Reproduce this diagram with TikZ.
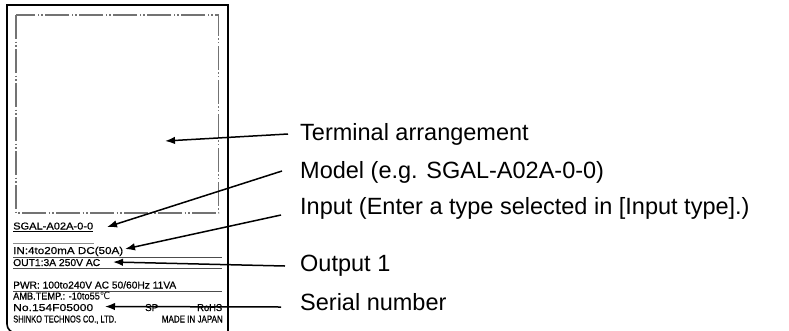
\documentclass[tikz,border=0pt]{standalone}
\usepackage{fontspec}
\setmainfont{Liberation Sans}
\newfontfamily\djv{DejaVu Sans}
\newfontfamily\labelfont[FakeBold=0.6]{Liberation Sans}
\usepackage{graphicx}
\usetikzlibrary{arrows.meta}
\newcommand\fitto[2]{\resizebox{#1pt}{\height}{#2}}
\begin{document}
\begin{tikzpicture}[x=1pt,y=-1pt,
  lt/.style={anchor=base west, inner sep=0pt, font=\labelfont\fontsize{10}{11}\selectfont},
  rl/.style={anchor=base west, inner sep=0pt, font=\fontsize{23.5}{26}\selectfont},
  sepline/.style={line width=0.9pt, black!70},
  dd/.style={line width=1.3pt, black!55, dash pattern=on 24pt off 2.5pt on 1.5pt off 2pt on 1.5pt off 2.5pt},
  conn/.style={line width=1.5pt, -{Latex[length=10pt,width=7.5pt]}},
  outer/.style={line width=1.6pt, black}]
\useasboundingbox (0,0) rectangle (789,330);
\fill[white] (0,0) rectangle (789,330);
\begin{scope}
\clip (0,0) rectangle (789,330);
% outer label border
\draw[outer] (228,345) -- (228,5) -- (7,5) [rounded corners=9pt] -- (7,333) -- (60,333);
% terminal area
\draw[dd] (16,15) rectangle (218.5,213);
% texts on the label
\node[lt] (model) at (13,229.5) {\fitto{80}{SGAL-A02A-0-0}};
\draw[line width=0.8pt] (13,231.8) -- (93,231.8);
\draw[line width=0.9pt, black!45] (13,243) -- (94,243);
\node[lt] (inp) at (13,254) {\fitto{110}{IN:4to20mA DC(50A)}};
\draw[sepline] (13,257) -- (222,257);
\node[lt] (out) at (13,266) {\fitto{87}{OUT1:3A 250V AC}};
\draw[sepline] (13,268.5) -- (222,268.5);
\node[lt] (pwr) at (13,288.5) {\fitto{163}{PWR: 100to240V AC 50/60Hz 11VA}};
\draw[sepline] (13,291) -- (222,291);
\node[lt] (amb) at (13,299.5) {\fitto{97}{AMB.TEMP.: -10to55{\djv ℃}}};
\node[lt] (serial) at (13,311) {\fitto{80}{No.154F05000}};
\node[lt] (sp) at (145,311) {\fitto{13}{SP}};
\node[lt] (rohs) at (197,311) {\fitto{25}{RoHS}};
\node[lt] (maker) at (13,322.5) {\fitto{103}{SHINKO TECHNOS CO., LTD.}};
\node[lt, anchor=base east] (made) at (223,322.5) {\fitto{61}{MADE IN JAPAN}};
\end{scope}
% right-hand labels
\node[rl] (lTerm) at (300,140) {Terminal arrangement};
\node[rl] (lModel) at (300,178) {Model (e.g. SGAL-A02A-0-0)};
\node[rl] (lInput) at (300,214) {Input (Enter a type selected in [Input type].)};
\node[rl] (lOut) at (300,271) {Output 1};
\node[rl] (lSerial) at (300,310) {Serial number};
% connector ends
\coordinate (sTerm) at (288,134);   \coordinate (tTerm) at (165,141);
\coordinate (sModel) at (282,171);  \coordinate (tModel) at (107,227);
\coordinate (sInput) at (281,215);  \coordinate (tInput) at (125,249);
\coordinate (sOut) at (285,266);    \coordinate (tOut) at (113,262);
\coordinate (sSerial) at (281,307); \coordinate (tSerial) at (105,306.5);
\draw[conn] (sTerm) -- (tTerm);
\draw[conn] (sModel) -- (tModel);
\draw[conn] (sInput) -- (tInput);
\draw[conn] (sOut) -- (tOut);
\draw[conn] (sSerial) -- (tSerial);
\end{tikzpicture}
\end{document}
